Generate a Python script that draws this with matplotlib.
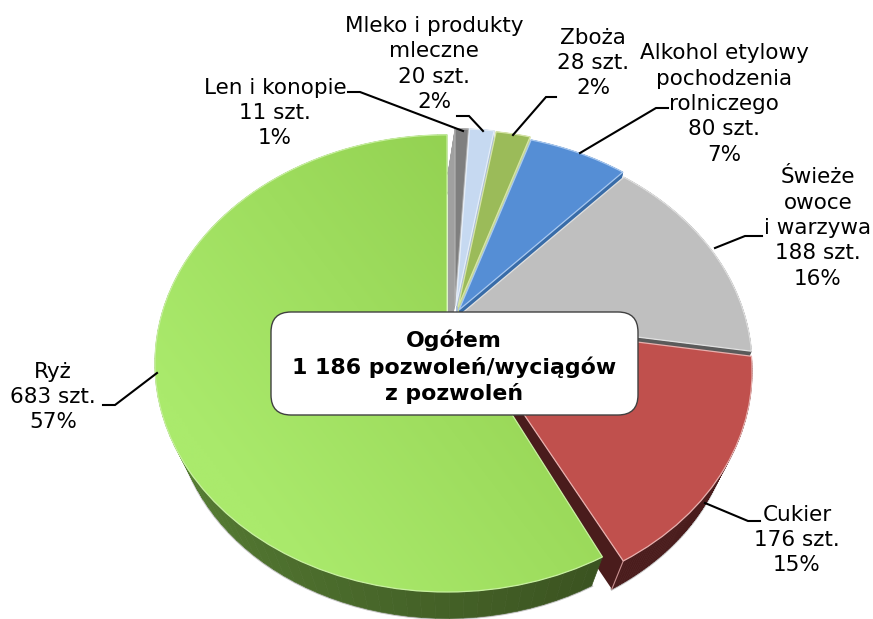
import numpy as np
import matplotlib
matplotlib.use("Agg")
import matplotlib.pyplot as plt
from matplotlib.collections import PolyCollection
from matplotlib.colors import to_rgb
from matplotlib.patches import FancyBboxPatch, PathPatch, Polygon
from matplotlib.transforms import Transform

# slices, clockwise from 12 o'clock
categories = ["Len i konopie", "Mleko i produkty\nmleczne", "Zboża", "Alkohol etylowy\npochodzenia\nrolniczego",
              "Świeże\nowoce\ni warzywa", "Cukier", "Ryż"]
counts = [11, 20, 28, 80, 188, 176, 683]
percents = ["1%", "2%", "2%", "7%", "16%", "15%", "57%"]
total_label = "Ogółem\n1 186 pozwoleń/wyciągów\nz pozwoleń"

colors = ["#7f7f7f", "#c6d9f1", "#9bbb59", "#558ed5", "#bfbfbf", "#c0504d", "#92d050"]
wall_colors = ["#a0a0a0", "#a9bcd4", "#c4d88c", "#386ca8", "#5a5a5a", "#4a1c1c", "#4a6a2a"]
edge_colors = ["#b0b0b0", "#e4edf8", "#d6e4a8", "#a8c8f0", "#e0e0e0", "#e8b0ae", "#c8f0a0"]

# where each slice's tip lands on the page (px), and how its underside is shifted
apex = [(455, 306), (456, 306), (458, 307), (459, 310), (460, 315), (460, 320), (447, 312)]
drop = [(-7, 32), (0, 47), (0, 47), (0, 47), (0, 47), (0, 45), (0, 46)]
A, B, Q, S = 284.6, 217.0, 0.225, 0.93

label_x = [275, 434, 593, 724, 818, 797, 53]
label_y = [113, 64, 63, 104, 228, 540, 397]
leaders = [[(348, 92), (360, 92), (463, 131)], [(457, 116), (469, 116), (483, 131)],
           [(556, 97), (546, 97), (513, 135)], [(668, 108), (656, 108), (580, 153)],
           [(762, 236), (745, 236), (715, 248)], [(705, 503), (748, 521), (760, 521)],
           [(157, 373), (115, 405), (103, 405)]]


class Persp(Transform):
    """Unit-disc pie -> page pixels, nearer edge drawn bigger."""
    input_dims = output_dims = 2

    def __init__(self, x0, y0, s=1.0):
        super().__init__()
        self.x0, self.y0, self.s = x0, y0, s

    def transform_non_affine(self, values):
        values = np.asarray(values, float)
        w = 1 + Q * values[:, 1]
        return np.column_stack([self.x0 + self.s * A * values[:, 0] / w,
                                self.y0 - self.s * B * values[:, 1] / w])


def main():
    fig = plt.figure(figsize=(8.73, 6.19), dpi=100, facecolor="white")
    ax = fig.add_axes([0, 0, 1, 1])
    wedges, _ = ax.pie(counts, startangle=90, counterclock=False, colors=colors, radius=1)
    # the big slice stops a little short of the exploded one in the original
    wedges[6].set_theta2(wedges[6].theta2 - 1.5)

    for i, w in enumerate(wedges):
        top = Persp(*apex[i])
        bot = Persp(apex[i][0] + drop[i][0], apex[i][1] + drop[i][1], S)
        w.set_transform(top + ax.transData)
        w.set_zorder(3)
        w.set_edgecolor("none")
        ax.add_patch(PathPatch(w.get_path(), fc="none", ec=edge_colors[i], lw=0.9, zorder=3.5,
                               transform=top + ax.transData))

        # outer wall of the slice
        deg = np.linspace(w.theta1, w.theta2, 90)
        ring = np.column_stack([np.cos(np.radians(deg)), np.sin(np.radians(deg))])
        p_top, p_bot = top.transform(ring), bot.transform(ring)
        quads = [[p_top[k], p_top[k + 1], p_bot[k + 1], p_bot[k]] for k in range(len(deg) - 1)]
        if i == 6:
            t = np.clip((deg[:-1] + 180) / 117, 0, 1)[:, None]
            fc = (1 - t) * np.array(to_rgb("#628f3c")) + t * np.array(to_rgb("#3a5220"))
        else:
            fc = wall_colors[i]
        ax.add_collection(PolyCollection(quads, facecolors=fc, edgecolors=fc, lw=0.5,
                                         zorder=2.2 if i == 6 else 2))
        ax.plot(p_bot[:, 0], p_bot[:, 1], color="#8a8a8a", lw=2, alpha=0.5, zorder=1.5)

        # cut face on the clockwise-end side of the slice
        angle = np.radians(w.theta1)
        tip = np.array([[0, 0], [np.cos(angle), np.sin(angle)]])
        a, b = top.transform(tip), bot.transform(tip)
        ax.add_patch(Polygon([a[0], a[1], b[1], b[0]], fc=wall_colors[i], ec="none", zorder=2))
        if i == 5:
            ax.plot([a[1][0], b[1][0]], [a[1][1], b[1][1]], color="#c89090", lw=0.8, zorder=2.4)

        # left cut face of the thin first slice, seen only below its shoulder
        if i == 0:
            angle = np.radians(w.theta2)
            tip = np.array([[0, 0], [np.cos(angle), np.sin(angle)]])
            a, b = top.transform(tip), bot.transform(tip)
            shoulder = a[0] + (a[1] - a[0]) * 0.75
            ax.add_patch(Polygon([a[0], shoulder, b[1], b[0]], fc=wall_colors[i], ec="none", zorder=2))

    # light sweep on the big slice
    yy, xx = np.mgrid[0:1:120j, 0:1:160j]
    g = np.clip(1.25 * (0.75 * (1 - xx) + 0.55 * yy) - 0.3, 0, 1)[..., None]
    img = (1 - g) * np.array(to_rgb("#92d050")) + g * np.array(to_rgb("#aaea6c"))
    im = ax.imshow(img, extent=(150, 640, 600, 130), aspect="auto", zorder=3.2, interpolation="bilinear")
    im.set_clip_path(wedges[6])

    ax.set_xlim(0, 873)
    ax.set_ylim(619, 0)
    ax.set_aspect("auto")
    ax.axis("off")

    for i, pts in enumerate(leaders):
        xs, ys = zip(*pts)
        ax.plot(xs, ys, color="black", lw=1.5, solid_joinstyle="miter", zorder=4)
        ax.text(label_x[i], label_y[i], f"{categories[i]}\n{counts[i]} szt.\n{percents[i]}",
                ha="center", va="center", fontsize=15.5, linespacing=1.33, color="black", zorder=6)

    ax.add_patch(FancyBboxPatch((291, 332), 327, 63, boxstyle="round,pad=20,rounding_size=20",
                                fc="white", ec="#404040", lw=1, zorder=5))
    ax.text(454, 366.5, total_label, ha="center", va="center", fontsize=15.8, fontweight="bold",
            linespacing=1.31, color="black", zorder=6)

    fig.savefig("out.png", dpi=100, facecolor="white")


if __name__ == "__main__":
    main()
